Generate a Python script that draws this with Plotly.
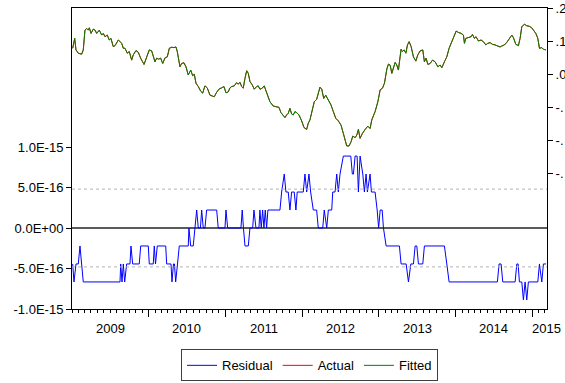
import pandas as pd
import plotly.graph_objects as go

# ---- data (time as fractional years) ----
fit_t = [2009.009, 2009.035, 2009.052, 2009.082, 2009.126, 2009.147, 2009.169, 2009.192, 2009.213, 2009.226,
         2009.248, 2009.278, 2009.300, 2009.322, 2009.356, 2009.387, 2009.408, 2009.430, 2009.460, 2009.486,
         2009.508, 2009.538, 2009.561, 2009.604, 2009.648, 2009.669, 2009.691, 2009.721, 2009.747, 2009.778,
         2009.799, 2009.834, 2009.864, 2009.895, 2009.939, 2009.974, 2010.008, 2010.039, 2010.060, 2010.082,
         2010.104, 2010.130, 2010.156, 2010.183, 2010.213, 2010.243, 2010.269, 2010.300, 2010.330, 2010.356,
         2010.373, 2010.408, 2010.430, 2010.460, 2010.486, 2010.516, 2010.548, 2010.574, 2010.595, 2010.617,
         2010.647, 2010.678, 2010.704, 2010.734, 2010.764, 2010.799, 2010.834, 2010.855, 2010.887, 2010.920,
         2010.952, 2010.982, 2011.008, 2011.038, 2011.060, 2011.082, 2011.116, 2011.147, 2011.168, 2011.190,
         2011.213, 2011.233, 2011.256, 2011.278, 2011.299, 2011.321, 2011.351, 2011.377, 2011.408, 2011.429,
         2011.451, 2011.481, 2011.507, 2011.525, 2011.551, 2011.581, 2011.624, 2011.669, 2011.699, 2011.725,
         2011.755, 2011.777, 2011.799, 2011.820, 2011.842, 2011.864, 2011.885, 2011.907, 2011.930, 2011.960,
         2011.995, 2012.025, 2012.060, 2012.081, 2012.103, 2012.133, 2012.159, 2012.190, 2012.211, 2012.233,
         2012.256, 2012.282, 2012.308, 2012.342, 2012.377, 2012.407, 2012.438, 2012.472, 2012.507, 2012.537,
         2012.559, 2012.581, 2012.611, 2012.638, 2012.660, 2012.690, 2012.712, 2012.733, 2012.755, 2012.785,
         2012.820, 2012.855, 2012.885, 2012.907, 2012.950, 2012.986, 2013.016, 2013.046, 2013.072, 2013.103,
         2013.124, 2013.146, 2013.168, 2013.189, 2013.211, 2013.233, 2013.254, 2013.276, 2013.289, 2013.306,
         2013.329, 2013.351, 2013.372, 2013.394, 2013.420, 2013.450, 2013.481, 2013.507, 2013.537, 2013.572,
         2013.593, 2013.615, 2013.638, 2013.668, 2013.698, 2013.733, 2013.768, 2013.798, 2013.820, 2013.854,
         2013.885, 2013.915, 2013.950, 2013.980, 2014.007, 2014.036, 2014.072, 2014.102, 2014.115, 2014.133,
         2014.167, 2014.202, 2014.219, 2014.245, 2014.267, 2014.297, 2014.332, 2014.362, 2014.394, 2014.420,
         2014.450, 2014.480, 2014.515, 2014.550, 2014.580, 2014.602, 2014.636, 2014.668, 2014.698, 2014.733,
         2014.754, 2014.785, 2014.819, 2014.841, 2014.863, 2014.897, 2014.928, 2014.958, 2014.993, 2015.014,
         2015.046, 2015.072, 2015.093, 2015.124, 2015.145, 2015.176]
fitted = [0.078, 0.108, 0.073, 0.063, 0.060, 0.073, 0.133, 0.138, 0.133, 0.140,
          0.123, 0.136, 0.133, 0.123, 0.133, 0.118, 0.123, 0.113, 0.118, 0.103,
          0.108, 0.083, 0.086, 0.103, 0.093, 0.078, 0.078, 0.063, 0.068, 0.042,
          0.058, 0.071, 0.066, 0.048, 0.029, 0.052, 0.073, 0.070, 0.052, 0.037,
          0.048, 0.045, 0.048, 0.032, 0.049, 0.052, 0.078, 0.081, 0.080, 0.082,
          0.068, 0.022, 0.032, 0.034, 0.022, -0.003, 0.012, -0.005, -0.001, -0.028,
          -0.038, -0.052, -0.058, -0.036, -0.042, -0.064, -0.067, -0.069, -0.055, -0.045,
          -0.042, -0.038, -0.057, -0.054, -0.042, -0.038, -0.036, -0.026, -0.031, -0.025,
          -0.038, -0.043, -0.013, 0.010, 0.002, -0.023, -0.033, -0.046, -0.038, -0.036,
          -0.046, -0.043, -0.036, -0.048, -0.069, -0.084, -0.097, -0.099, -0.101, -0.117,
          -0.127, -0.132, -0.124, -0.119, -0.104, -0.121, -0.124, -0.114, -0.117, -0.124,
          -0.142, -0.162, -0.168, -0.149, -0.139, -0.114, -0.084, -0.077, -0.058, -0.040,
          -0.046, -0.074, -0.064, -0.079, -0.094, -0.114, -0.134, -0.142, -0.155, -0.180,
          -0.200, -0.218, -0.218, -0.205, -0.188, -0.193, -0.185, -0.168, -0.195, -0.180,
          -0.168, -0.158, -0.165, -0.139, -0.114, -0.084, -0.048, -0.043, -0.028, 0.015,
          0.030, 0.027, 0.002, 0.017, 0.035, 0.027, 0.012, 0.052, 0.075, 0.068,
          0.073, 0.063, 0.088, 0.098, 0.083, 0.052, 0.039, 0.058, 0.070, 0.073,
          0.037, 0.048, 0.029, 0.032, 0.042, 0.037, 0.022, 0.027, 0.019, 0.037,
          0.052, 0.078, 0.098, 0.116, 0.130, 0.126, 0.123, 0.118, 0.093, 0.108,
          0.111, 0.113, 0.120, 0.108, 0.113, 0.100, 0.103, 0.098, 0.088, 0.093,
          0.095, 0.090, 0.088, 0.086, 0.082, 0.085, 0.088, 0.096, 0.108, 0.118,
          0.110, 0.090, 0.086, 0.108, 0.143, 0.151, 0.146, 0.145, 0.140, 0.133,
          0.123, 0.108, 0.078, 0.080, 0.075, 0.073]
# Actual is indistinguishable from Fitted at this resolution (residuals ~1e-16)
actual = list(fitted)

res_t = [2009.009, 2009.026, 2009.052, 2009.082, 2009.104, 2009.147, 2009.626, 2009.635, 2009.652, 2009.669,
         2009.687, 2009.713, 2009.756, 2009.769, 2009.791, 2009.877, 2009.896, 2009.995, 2010.008, 2010.060,
         2010.073, 2010.089, 2010.112, 2010.222, 2010.235, 2010.291, 2010.304, 2010.323, 2010.336, 2010.352,
         2010.376, 2010.399, 2010.516, 2010.525, 2010.548, 2010.581, 2010.626, 2010.647, 2010.675, 2010.691,
         2010.712, 2010.734, 2010.756, 2010.887, 2010.907, 2010.995, 2011.008, 2011.030, 2011.203, 2011.220,
         2011.236, 2011.256, 2011.299, 2011.321, 2011.356, 2011.373, 2011.399, 2011.438, 2011.451, 2011.468,
         2011.486, 2011.503, 2011.520, 2011.538, 2011.555, 2011.712, 2011.734, 2011.768, 2011.790, 2011.820,
         2011.842, 2011.864, 2011.898, 2011.920, 2011.937, 2012.016, 2012.038, 2012.060, 2012.090, 2012.112,
         2012.146, 2012.190, 2012.211, 2012.269, 2012.289, 2012.321, 2012.342, 2012.386, 2012.399, 2012.429,
         2012.451, 2012.472, 2012.494, 2012.537, 2012.634, 2012.654, 2012.668, 2012.690, 2012.716, 2012.733,
         2012.755, 2012.790, 2012.811, 2012.833, 2012.850, 2012.885, 2012.902, 2012.950, 2012.977, 2012.996,
         2013.016, 2013.042, 2013.059, 2013.094, 2013.267, 2013.289, 2013.355, 2013.385, 2013.416, 2013.450,
         2013.472, 2013.494, 2013.515, 2013.572, 2013.593, 2013.854, 2013.885, 2013.915, 2014.545, 2014.567,
         2014.593, 2014.615, 2014.776, 2014.798, 2014.815, 2014.832, 2014.863, 2014.884, 2014.906, 2014.928,
         2014.949, 2015.072, 2015.093, 2015.124, 2015.145, 2015.180]
residual = [-4.44e-16, -6.66e-16, -4.44e-16, -4.44e-16, -2.22e-16, -6.66e-16, -6.66e-16, -4.44e-16, -6.66e-16, -4.44e-16,
            -6.66e-16, -4.44e-16, -4.44e-16, -2.22e-16, -4.44e-16, -4.44e-16, -2.22e-16, -2.22e-16, -4.44e-16, -4.44e-16,
            -2.22e-16, -4.44e-16, -2.22e-16, -2.22e-16, -4.44e-16, -4.44e-16, -6.66e-16, -4.44e-16, -4.44e-16, -6.66e-16,
            -4.44e-16, -2.22e-16, -2.22e-16, 0.0, -2.22e-16, -2.22e-16, 2.22e-16, 0.0, 0.0, 2.22e-16,
            0.0, 0.0, 2.22e-16, 2.22e-16, 0.0, 0.0, 2.22e-16, 0.0, 0.0, 2.22e-16,
            0.0, -2.22e-16, -2.22e-16, 0.0, 0.0, 2.22e-16, 0.0, 0.0, 2.22e-16, 0.0,
            2.22e-16, 0.0, 2.22e-16, 0.0, 2.22e-16, 2.22e-16, 4.44e-16, 6.66e-16, 4.44e-16, 4.44e-16,
            2.22e-16, 4.44e-16, 4.44e-16, 2.22e-16, 4.44e-16, 4.44e-16, 6.66e-16, 4.44e-16, 6.66e-16, 4.44e-16,
            2.22e-16, 2.22e-16, 0.0, 0.0, 2.22e-16, 0.0, 2.22e-16, 2.22e-16, 4.44e-16, 4.44e-16,
            6.66e-16, 4.44e-16, 6.66e-16, 8.88e-16, 8.88e-16, 6.66e-16, 6.66e-16, 8.88e-16, 8.88e-16, 4.44e-16,
            8.88e-16, 6.66e-16, 4.44e-16, 6.66e-16, 4.44e-16, 6.66e-16, 4.44e-16, 4.44e-16, 2.22e-16, 0.0,
            2.22e-16, 2.22e-16, 0.0, -2.22e-16, -2.22e-16, -4.44e-16, -4.44e-16, -6.66e-16, -4.44e-16, -4.44e-16,
            -2.22e-16, -2.22e-16, -4.44e-16, -4.44e-16, -2.22e-16, -2.22e-16, -4.44e-16, -6.66e-16, -6.66e-16, -4.44e-16,
            -4.44e-16, -6.66e-16, -6.66e-16, -4.44e-16, -4.44e-16, -6.66e-16, -6.66e-16, -8.88e-16, -6.66e-16, -8.88e-16,
            -6.66e-16, -6.66e-16, -4.44e-16, -6.66e-16, -4.44e-16, -4.44e-16]

se_band = 4.8e-16  # dashed +/- 1 S.E. lines

left_tickvals = [-1e-15, -5e-16, 0.0, 5e-16, 1e-15]
left_ticktext = ["-1.0E-15", "-5.0E-16", "0.0E+00", "5.0E-16", "1.0E-15"]
right_tickvals = [0.2, 0.1, 0.0, -0.1, -0.2, -0.3]
# labels as visible in the reference (truncated by the window edge there)
right_ticktext = [".2", ".1", ".0", "-.", "-.", "-."]
year_labels = ["2009", "2010", "2011", "2012", "2013", "2014", "2015"]
year_label_pos = ["2009-07-02", "2010-07-02", "2011-07-02", "2012-07-02", "2013-07-02", "2014-07-02", "2015-03-08"]
year_starts = ["2010-01-01", "2011-01-01", "2012-01-01", "2013-01-01", "2014-01-01", "2015-01-01"]
x_range = ["2009-01-01", "2015-03-12"]


def to_date(t):
    y = int(t)
    s = pd.Timestamp(year=y, month=1, day=1)
    e = pd.Timestamp(year=y + 1, month=1, day=1)
    return s + (e - s) * (t - y)


fit_d = [to_date(t) for t in fit_t]
res_d = [to_date(t) for t in res_t]

FONT = "Liberation Sans, Arial, sans-serif"

fig = go.Figure()
fig.add_trace(go.Scatter(x=res_d, y=residual, name="Residual", mode="lines",
                         line=dict(color="#0000ff", width=1), yaxis="y"))
fig.add_trace(go.Scatter(x=fit_d, y=actual, name="Actual", mode="lines",
                         line=dict(color="#ff0000", width=1), yaxis="y2"))
fig.add_trace(go.Scatter(x=fit_d, y=fitted, name="Fitted", mode="lines",
                         line=dict(color="#008000", width=1), yaxis="y2"))

# dashed +/- S.E. reference lines drawn as traces on the residual axis
fig.add_trace(go.Scatter(x=[x_range[0], x_range[1]], y=[se_band, se_band], mode="lines",
                         line=dict(color="#b4b4b4", width=1, dash="dot"), yaxis="y",
                         showlegend=False, hoverinfo="skip"))
fig.add_trace(go.Scatter(x=[x_range[0], x_range[1]], y=[-se_band, -se_band], mode="lines",
                         line=dict(color="#b4b4b4", width=1, dash="dot"), yaxis="y",
                         showlegend=False, hoverinfo="skip"))

for lab, pos in zip(year_labels, year_label_pos):
    fig.add_annotation(x=pos, y=0, xref="x", yref="paper", text=lab, showarrow=False,
                       yanchor="top", xanchor="center", yshift=-10,
                       font=dict(family=FONT, size=13, color="black"))

fig.update_layout(
    width=565, height=383,
    margin=dict(l=72, r=18, t=8, b=74),
    paper_bgcolor="white", plot_bgcolor="white",
    font=dict(family=FONT, size=13, color="black"),
    showlegend=True,
    legend=dict(orientation="h", x=0.5, xanchor="center", xref="paper",
                y=0.046, yanchor="middle", yref="container",
                bordercolor="#404040", borderwidth=1, bgcolor="white",
                font=dict(size=13), traceorder="normal"),
    xaxis=dict(type="date", range=x_range, showgrid=False, zeroline=False, automargin=False,
               showline=True, linecolor="black", linewidth=1, mirror=True,
               tickmode="array", tickvals=year_starts, ticktext=[""] * len(year_starts),
               ticks="outside", ticklen=7, tickcolor="black", tickwidth=1,
               minor=dict(ticks="outside", ticklen=3, tickcolor="black", tickwidth=1,
                          dtick="M1", tick0="2009-01-01", showgrid=False)),
    yaxis=dict(range=[-1e-15, 2.716e-15], tickmode="array", tickvals=left_tickvals,
               ticktext=left_ticktext, ticks="outside", ticklen=5, tickcolor="black",
               showgrid=False, zeroline=True, zerolinecolor="#5a5a5a", zerolinewidth=1.5,
               showline=True, linecolor="black", linewidth=1, automargin=False),
    yaxis2=dict(range=[-0.712, 0.2], overlaying="y", side="right", tickmode="array",
                tickvals=right_tickvals, ticktext=right_ticktext, ticks="outside",
                ticklen=5, tickcolor="black", showgrid=False, zeroline=False, automargin=False,
                showline=True, linecolor="black", linewidth=1),
)

fig.write_html("out.html")
